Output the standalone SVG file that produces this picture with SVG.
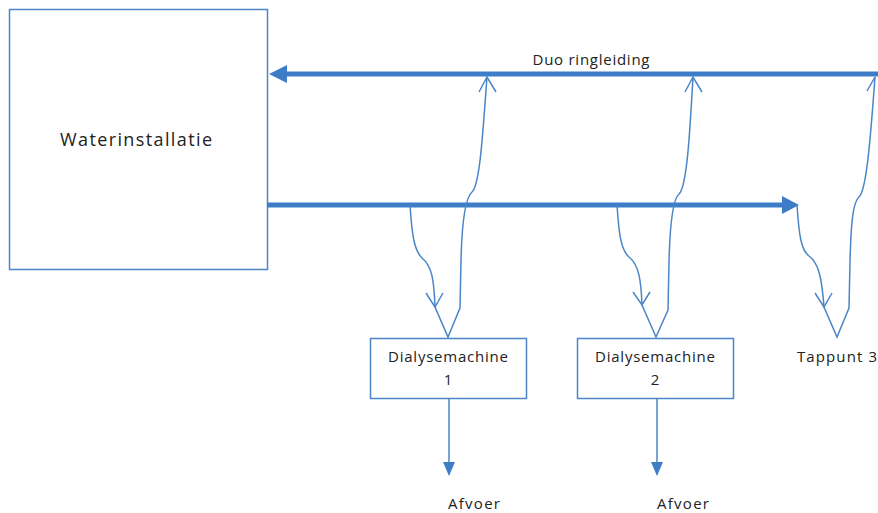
<svg xmlns="http://www.w3.org/2000/svg" width="878" height="513" viewBox="0 0 878 513">
<style>
.box{fill:#fff;stroke:#4a86c8;stroke-width:1.5}
.thick{fill:none;stroke:#3d7cc6;stroke-width:5}
.thin{fill:none;stroke:#4a86c8;stroke-width:1.5}
text{font-family:"Open Sans","DejaVu Sans",sans-serif;fill:#222}
</style>
<defs>
<marker id="tri" viewBox="0 0 10 10" refX="10" refY="5" markerWidth="10" markerHeight="10" markerUnits="userSpaceOnUse" orient="auto"><path d="M0,0 L10,5 L0,10 Z" fill="#3d7cc6"/></marker>
</defs>
<g id="waterinstallatie">
<rect class="box" x="9.5" y="9.5" width="258" height="260"/>
<text x="60" y="146" font-size="18" textLength="152" lengthAdjust="spacing">Waterinstallatie</text>
</g>
<g id="dialysemachine1">
<rect class="box" x="370.5" y="338.5" width="156" height="60"/>
<text x="448" y="362" font-size="15" text-anchor="middle" textLength="120" lengthAdjust="spacing">Dialysemachine</text>
<text x="448" y="385" font-size="15" text-anchor="middle">1</text>
</g>
<g id="dialysemachine2">
<rect class="box" x="577.5" y="338.5" width="156" height="60"/>
<text x="655" y="362" font-size="15" text-anchor="middle" textLength="120" lengthAdjust="spacing">Dialysemachine</text>
<text x="655" y="385" font-size="15" text-anchor="middle">2</text>
</g>
<g id="tappunt3">
<text x="797" y="362" font-size="15" textLength="80" lengthAdjust="spacing">Tappunt 3</text>
</g>
<g id="afvoer1"><text x="448" y="509" font-size="15" textLength="52" lengthAdjust="spacing">Afvoer</text></g>
<g id="afvoer2"><text x="657" y="509" font-size="15" textLength="52" lengthAdjust="spacing">Afvoer</text></g>
<g id="connectors">
<path class="thick" d="M878,74 L285,74"/>
<path d="M269,74 L287,65 L287,83 Z" fill="#3d7cc6"/>
<text x="591" y="65" font-size="15" text-anchor="middle" textLength="117" lengthAdjust="spacing">Duo ringleiding</text>
<path class="thick" d="M267,205 L784,205"/>
<path d="M799,205 L782,196 L782,214 Z" fill="#3d7cc6"/>
<path class="thin" d="M410,205 C412,235 414,250 422,258 C432,266 434,280 435,307 L448,337 L460,308 L461,260 C462,220 466,197 472,192 C480,185 483,130 487,77"/>
<path class="thin" d="M426,293 L435,307 L443,293"/>
<path class="thin" d="M479,92 L487,77 L496,92"/>
<path class="thin" d="M617,205 C619,235 621,250 629,257 C639,265 641,280 642,305 L656,337 L668,310 L669,262 C670,222 673,199 679,194 C687,187 690,130 693,77"/>
<path class="thin" d="M633,292 L642,305 L650,292"/>
<path class="thin" d="M685,92 L693,77 L702,92"/>
<path class="thin" d="M797,205 C799,235 801,250 809,256 C819,263 822,280 824,307 L837,337 L849,308 L850,262 C851,222 853,202 859,197 C867,190 871,130 875,77"/>
<path class="thin" d="M815,293 L824,307 L832,293"/>
<path class="thin" d="M867,91 L875,77"/>
<path class="thin" d="M449,399 L449,465"/>
<path d="M449,476 L443,462 L455,462 Z" fill="#3d7cc6"/>
<path class="thin" d="M657,399 L657,465"/>
<path d="M657,476 L651,462 L663,462 Z" fill="#3d7cc6"/>
</g>
</svg>
